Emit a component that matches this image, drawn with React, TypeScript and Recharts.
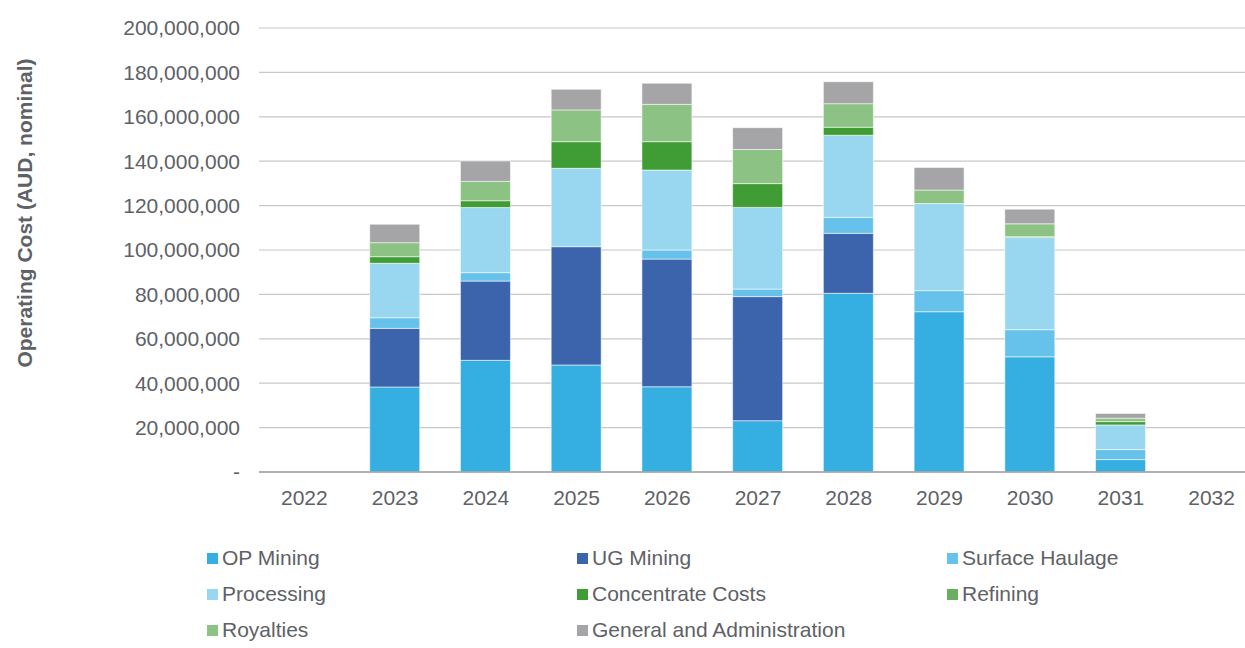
import { BarChart, Bar, XAxis, YAxis, CartesianGrid } from "recharts";

const years = ["2022", "2023", "2024", "2025", "2026", "2027", "2028", "2029", "2030", "2031", "2032"];

// values in AUD millions
const opMining = [0, 38.3, 50.3, 48.2, 38.4, 23.1, 80.5, 72.2, 51.9, 5.6, 0];
const ugMining = [0, 26.4, 35.7, 53.3, 57.5, 55.9, 27.0, 0, 0, 0, 0];
const surfaceHaulage = [0, 4.8, 3.8, 0, 4.1, 3.4, 7.2, 9.5, 12.2, 4.5, 0];
const processing = [0, 24.5, 29.3, 35.3, 36.0, 36.8, 37.0, 39.2, 41.5, 11.1, 0];
const concentrateCosts = [0, 3.0, 3.1, 12.0, 12.8, 10.7, 3.6, 0, 0.4, 1.5, 0];
const refining = [0, 0, 0, 0, 0, 0, 0, 0, 0, 0, 0];
const royalties = [0, 6.3, 8.7, 14.3, 16.8, 15.4, 10.6, 6.1, 5.8, 1.5, 0];
const generalAdmin = [0, 8.3, 9.2, 9.3, 9.5, 9.8, 9.9, 10.2, 6.6, 2.2, 0];

const yTicks = [0, 20, 40, 60, 80, 100, 120, 140, 160, 180, 200].map((v) => v * 1000000);

const series = [
  { key: "opMining", name: "OP Mining", values: opMining, color: "#35AFE2" },
  { key: "ugMining", name: "UG Mining", values: ugMining, color: "#3C64AC" },
  { key: "surfaceHaulage", name: "Surface Haulage", values: surfaceHaulage, color: "#66C2EA" },
  { key: "processing", name: "Processing", values: processing, color: "#99D7F1" },
  { key: "concentrateCosts", name: "Concentrate Costs", values: concentrateCosts, color: "#409C35" },
  { key: "refining", name: "Refining", values: refining, color: "#6AAF5E" },
  { key: "royalties", name: "Royalties", values: royalties, color: "#8CC283" },
  { key: "generalAdmin", name: "General and Administration", values: generalAdmin, color: "#A5A5A7" },
];

const chartData = years.map((year, i) => {
  const row: any = { year };
  series.forEach((s) => {
    row[s.key] = s.values[i] * 1000000;
  });
  return row;
});

const textColor = "#5e6166";
const font = "'Liberation Sans', Arial, sans-serif";

export default function App() {
  return (
    <div style={{ position: "absolute", left: 0, top: 0, width: 1245, height: 648, overflow: "hidden", background: "#fff", fontFamily: font }}>
      <BarChart
        width={1260}
        height={520}
        data={chartData}
        margin={{ top: 28, right: 3, left: 0, bottom: 0 }}
        barSize={50}
      >
        <CartesianGrid vertical={false} stroke="#c8c8c8" strokeWidth={1.2} />
        <XAxis
          dataKey="year"
          height={48}
          tickLine={false}
          axisLine={{ stroke: "#a0a0a0", strokeWidth: 1.5 }}
          tickMargin={12}
          tick={{ fill: textColor, fontSize: 21, fontFamily: font }}
        />
        <YAxis
          width={259}
          domain={[0, 200000000]}
          ticks={yTicks}
          interval={0}
          axisLine={false}
          tickLine={false}
          tickMargin={13}
          tick={{ fill: textColor, fontSize: 21, fontFamily: font }}
          tickFormatter={(v: number) => (v === 0 ? "-" : v.toLocaleString("en-US"))}
          label={() => (
            <text
              x={24}
              y={213}
              transform="rotate(-90, 24, 213)"
              textAnchor="middle"
              dominantBaseline="central"
              fill={textColor}
              fontSize={21}
              fontWeight="bold"
              fontFamily={font}
            >
              Operating Cost (AUD, nominal)
            </text>
          )}
        />
        {series.map((s) => (
          <Bar
            key={s.key}
            dataKey={s.key}
            name={s.name}
            stackId="cost"
            fill={s.color}
            stroke="rgba(255,255,255,0.55)"
            strokeWidth={1}
            isAnimationActive={false}
          />
        ))}
      </BarChart>
      {series.map((s, i) => (
        <div
          key={s.key}
          style={{
            position: "absolute",
            left: 207 + (i % 3) * 370,
            top: 548 + Math.floor(i / 3) * 36,
            display: "flex",
            alignItems: "center",
            height: 20,
            fontSize: 21,
            color: textColor,
            whiteSpace: "nowrap",
          }}
        >
          <span style={{ display: "inline-block", width: 11, height: 11, background: s.color, marginRight: 4 }} />
          <span>{s.name}</span>
        </div>
      ))}
    </div>
  );
}
